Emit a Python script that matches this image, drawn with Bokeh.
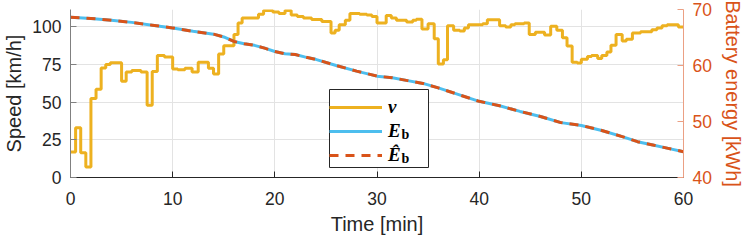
from bokeh.plotting import figure
from bokeh.models import Range1d, LinearAxis, Legend, LegendItem, Label, FixedTicker, BoxAnnotation
from bokeh.embed import file_html
from bokeh.resources import INLINE

# ---- data ----
t_speed = [0, 0.5, 1.0, 1.5, 2.0, 2.5, 3.0, 3.45, 3.9, 5.0, 5.45, 6.0, 6.9, 7.5, 8.0, 8.5, 9.2,
           10.0, 10.5, 11.2, 11.9, 12.5, 13.5, 14.0, 14.5, 15.0, 16.0, 16.4, 16.8, 18.4, 18.9,
           19.8, 20.4, 21.0, 21.6, 22.2, 22.8, 23.6, 24.6, 25.5, 25.9, 26.3, 26.9, 27.35, 28.3,
           29.0, 29.5, 30.0, 30.9, 31.4, 31.9, 32.9, 33.5, 33.85, 34.4, 35.0, 35.6, 36.0, 36.5,
           36.9, 37.5, 38.1, 38.55, 38.95, 40.35, 40.8, 42.0, 42.6, 43.1, 43.5, 44.4, 44.9, 45.5,
           46.4, 47.0, 47.6, 48.15, 48.6, 49.1, 49.6, 50.0, 50.6, 51.0, 51.6, 52.0, 52.5, 52.9,
           53.4, 54.0, 54.4, 55.0, 55.8, 56.9, 57.4, 57.9, 58.4, 59.5, 60.0]
v_speed = [17, 33, 16.5, 7, 52.5, 58.6, 72.8, 75, 76.3, 64, 70, 71, 70, 48, 70.4, 81, 80,
           72, 71.5, 72.5, 70, 76.5, 72.5, 68.8, 82, 87.6, 95, 102.6, 106, 108.5, 111,
           110, 109, 111, 108, 107, 106, 105, 103.7, 96, 97.8, 101.5, 104.4, 109, 108.5,
           108, 107, 102.6, 107.6, 105.9, 104.4, 103.3, 104.4, 105.2, 98.7, 102.2, 92.2, 75.4, 78.2,
           100.8, 97.8, 97.4, 99.3, 101.5, 102.2, 104.8, 100.8, 100, 101.5, 102.2, 102.6, 95, 96.5,
           94.6, 100.4, 97.8, 92.8, 87.4, 76.5, 76, 78.6, 80.4, 81, 79, 81, 83.4, 87.8,
           95, 90.6, 91.9, 96, 96.8, 98.2, 99.3, 100.8, 101.5, 100, 100]

t_energy = [0, 2, 4, 6, 8, 10, 12, 14, 15, 16, 17, 18, 19, 20, 21, 22, 23, 24, 26, 28, 30,
            31.5, 33, 34.5, 36, 38, 40, 42, 44, 46, 48, 50, 52, 54, 55.5, 57, 58.5, 60]
e_batt = [68.6, 68.4, 68.1, 67.7, 67.2, 66.7, 66.1, 65.6, 65.1, 64.3, 63.9, 63.6, 63.1, 62.5,
          62.1, 61.95, 61.5, 61.1, 60.0, 59.0, 58.1, 57.8, 57.3, 56.8, 56.0, 54.8, 53.6, 52.8,
          51.8, 50.9, 49.8, 49.3, 48.4, 47.3, 46.4, 45.8, 45.2, 44.6]
e_batt_est = [68.6, 68.4, 68.1, 67.7, 67.2, 66.7, 66.1, 65.6, 65.1, 64.3, 63.9, 63.6, 63.1, 62.5,
              62.1, 61.95, 61.5, 61.1, 60.0, 59.0, 58.1, 57.8, 57.3, 56.8, 56.0, 54.8, 53.6, 52.8,
              51.8, 50.9, 49.8, 49.3, 48.4, 47.3, 46.4, 45.8, 45.2, 44.6]

x_ticks = [0, 10, 20, 30, 40, 50, 60]
speed_ticks = [0, 25, 50, 75, 100]
energy_ticks = [40, 50, 60, 70]

# ---- figure ----
FONT = "Liberation Sans"
TICK_FS = "17.5px"
LABEL_FS = "20px"
DARK = "#262626"
ORANGE = "#D95319"

p = figure(width=747, height=240, output_backend="svg", toolbar_location=None,
           x_range=Range1d(0, 60), y_range=Range1d(0, 111.6),
           min_border_left=68, min_border_right=64, min_border_top=9, min_border_bottom=63)
p.outline_line_color = None
p.background_fill_color = "white"
p.extra_y_ranges = {"energy": Range1d(40, 70)}

# grid
p.xgrid.ticker = FixedTicker(ticks=x_ticks)
p.ygrid.ticker = FixedTicker(ticks=speed_ticks)
p.grid.grid_line_color = "#e3e3e3"
p.grid.grid_line_width = 1

# x axis
xa = p.xaxis[0]
xa.ticker = FixedTicker(ticks=x_ticks)
xa.axis_label = "Time [min]"
# y axis
ya = p.yaxis[0]
ya.ticker = FixedTicker(ticks=speed_ticks)
ya.axis_label = "Speed [km/h]"

for ax in (xa, ya):
    ax.major_label_text_font = FONT
    ax.major_label_text_font_size = TICK_FS
    ax.major_label_text_color = DARK
    ax.axis_label_text_font = FONT
    ax.axis_label_text_font_size = LABEL_FS
    ax.axis_label_text_font_style = "normal"
    ax.axis_label_text_color = DARK
    ax.major_tick_in = 6
    ax.major_tick_out = 0
    ax.minor_tick_line_color = None
xa.axis_line_color = DARK
xa.major_tick_line_color = DARK
xa.major_label_standoff = 14
xa.axis_label_standoff = 5
ya.axis_line_color = "#808080"
ya.major_tick_line_color = "#808080"
ya.major_label_standoff = 9
ya.axis_label_standoff = 4

ra = LinearAxis(y_range_name="energy", ticker=FixedTicker(ticks=energy_ticks),
                axis_label="Battery energy [kWh]")
ra.major_label_text_font = FONT
ra.major_label_text_font_size = TICK_FS
ra.major_label_text_color = ORANGE
ra.axis_label_text_font = FONT
ra.axis_label_text_font_size = LABEL_FS
ra.axis_label_text_font_style = "normal"
ra.axis_label_text_color = ORANGE
ra.axis_line_color = "#EBA084"
ra.major_tick_line_color = "#EBA084"
ra.major_tick_in = 6
ra.major_tick_out = 0
ra.minor_tick_line_color = None
ra.major_label_standoff = 9
ra.axis_label_standoff = 7
p.add_layout(ra, "right")

# ---- data lines ----
r_v = p.step(t_speed, v_speed, mode="after", line_color="#EDB120", line_width=3)
r_e = p.line(t_energy, e_batt, y_range_name="energy", line_color="#4DBEEE", line_width=3)
r_h = p.line(t_energy, e_batt_est, y_range_name="energy", line_color=ORANGE,
             line_width=3, line_dash="9 7")

# legend background box (frame-relative screen units)
box = BoxAnnotation(left=259, right=358, bottom=10, top=88,
                    left_units="screen", right_units="screen",
                    top_units="screen", bottom_units="screen",
                    fill_color="white", fill_alpha=1.0,
                    line_color=DARK, line_width=1, line_alpha=1.0)
p.add_layout(box)

legend = Legend(items=[LegendItem(label="v", renderers=[r_v]),
                       LegendItem(label="E", renderers=[r_e]),
                       LegendItem(label="\u00ca", renderers=[r_h])],
                location=(259, 10), orientation="vertical")
legend.label_text_font = "Liberation Serif"
legend.label_text_font_style = "bold italic"
legend.label_text_font_size = "19px"
legend.label_text_color = "black"
legend.border_line_color = None
legend.background_fill_alpha = 0
legend.padding = 3
legend.spacing = 0
legend.margin = 0
legend.glyph_width = 53
legend.glyph_height = 24
legend.label_height = 24
legend.label_width = 34
legend.label_standoff = 6
p.add_layout(legend)

# subscripts "b" for the legend labels (screen units, relative to the frame)
for yy in (36, 12):
    p.add_layout(Label(x=331, y=yy, x_units="screen", y_units="screen", text="b",
                       text_font="Liberation Serif", text_font_style="bold",
                       text_font_size="14px", text_color="black", level="overlay"))

open("out.html", "w").write(file_html(p, INLINE))
